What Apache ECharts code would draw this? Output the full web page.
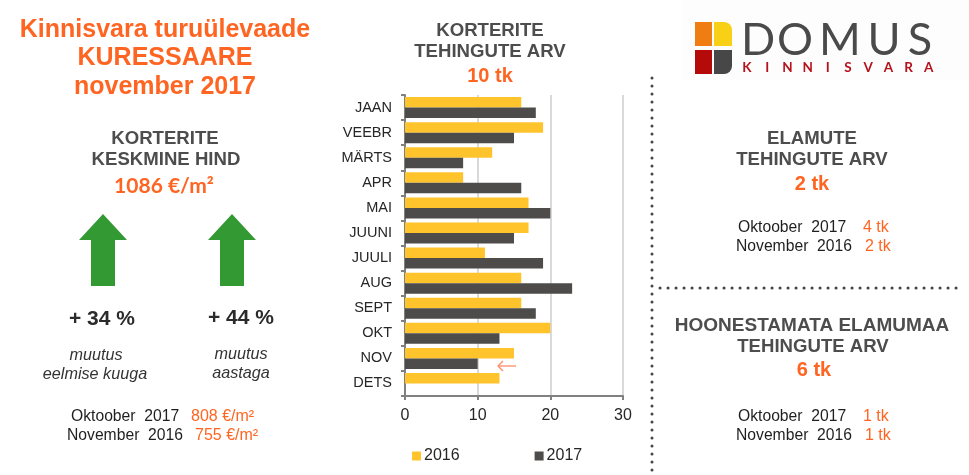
<!DOCTYPE html>
<html>
<head>
<meta charset="utf-8">
<style>
html,body{margin:0;padding:0;background:#fff}
#main{width:969px;height:475px}
</style>
<script src="https://cdn.jsdelivr.net/npm/echarts@6/dist/echarts.min.js"></script>
</head>
<body>
<div id="main"></div>
<script>
// andmed
var months = ['JAAN','VEEBR','MÄRTS','APR','MAI','JUUNI','JUULI','AUG','SEPT','OKT','NOV','DETS'];
var y2016 = [16,19,12,8,17,17,11,16,16,20,15,13];
var y2017 = [18,15,8,16,20,15,19,23,18,13,10,null];
var xTicks = {min:0, max:30, interval:10};

var ORANGE = '#ff6522', GREY = '#4d4d4d', DARK = '#1f1f1f';
var ARIAL = '"Liberation Sans", Arial, sans-serif';

function txt(x, y, s, size, color, opt) {
    opt = opt || {};
    return {
        type: 'text', x: x, y: y, silent: true,
        style: {
            text: s, fill: color,
            font: (opt.italic ? 'italic ' : '') + (opt.bold ? 'bold ' : '') + size + 'px ' + (opt.family || ARIAL),
            align: opt.align || 'center', verticalAlign: 'middle'
        }
    };
}
function arrow(cx) {
    return {
        type: 'polygon', silent: true,
        shape: {points: [[cx,214],[cx+24,240],[cx+12,240],[cx+12,286],[cx-12,286],[cx-12,240],[cx-24,240]]},
        style: {fill: '#339933'}
    };
}
function dotted(x1, y1, x2, y2) {
    return {
        type: 'line', silent: true,
        shape: {x1:x1, y1:y1, x2:x2, y2:y2},
        style: {stroke:'#454545', lineWidth:3, lineCap:'round', lineDash:[0.1,7.9]}
    };
}
function row(y, x1, a, x2, b) {
    return [
        txt(x1, y, a, 15.7, DARK, {align:'left'}),
        txt(x2, y, b, 16, ORANGE, {align:'left'})
    ];
}

// logo tahed
var logoTop = ['D','O','M','U','S'].map(function (c, i) {
    return txt([758,795,840,884,920][i], 40, c, 45, '#4a4a4a', {family:'Lato, sans-serif'});
});
var logoBottom = 'KINNISVARA'.split('').map(function (c, i) {
    return txt(747 + i * 20.2, 68, c, 13.5, '#b5121b', {bold:true, family:'Lato, sans-serif'});
});

var graphics = [
    {type:'rect', silent:true, shape:{x:682,y:0,width:287,height:80}, style:{fill:'#fdfdfd'}},
    // vasak pool
    txt(165, 30, 'Kinnisvara turuülevaade', 25, ORANGE, {bold:true}),
    txt(165, 58, 'KURESSAARE', 25, ORANGE, {bold:true}),
    txt(165, 87, 'november 2017', 25, ORANGE, {bold:true}),
    txt(165, 139, 'KORTERITE', 18.6, GREY, {bold:true}),
    txt(166, 160, 'KESKMINE HIND', 18.6, GREY, {bold:true}),
    txt(164, 186, '1086 €/m²', 21, ORANGE, {bold:true, family:'Lato, sans-serif'}),
    arrow(103),
    arrow(232),
    txt(102, 319, '+ 34 %', 21, '#2b2b2b', {bold:true}),
    txt(241, 318, '+ 44 %', 21, '#2b2b2b', {bold:true}),
    txt(96, 355, 'muutus', 16.2, '#333', {italic:true}),
    txt(95, 374, 'eelmise kuuga', 16.2, '#333', {italic:true}),
    txt(241, 354, 'muutus', 16.2, '#333', {italic:true}),
    txt(241, 373, 'aastaga', 16.2, '#333', {italic:true})
].concat(
    row(417, 71, 'Oktoober  2017', 191, '808 €/m²'),
    row(436, 67, 'November  2016', 195, '755 €/m²'),
    [
        // keskmine pealkiri
        txt(490, 31, 'KORTERITE', 18.6, GREY, {bold:true}),
        txt(490, 52, 'TEHINGUTE ARV', 18.6, GREY, {bold:true}),
        txt(490, 76, '10 tk', 20, ORANGE, {bold:true}),
        // nool NOV juures
        {type:'polyline', silent:true, shape:{points:[[516,366],[498,366]]}, style:{stroke:'#ff8a65', lineWidth:1.3, fill:null}},
        {type:'polyline', silent:true, shape:{points:[[503,361],[498,366],[503,371]]}, style:{stroke:'#ff8a65', lineWidth:1.3, fill:null}},
        // eraldajad
        dotted(652, 78, 652, 475),
        dotted(660, 288, 958, 288),
        // parem pool
        txt(812, 139, 'ELAMUTE', 18.6, GREY, {bold:true}),
        txt(812, 160, 'TEHINGUTE ARV', 18.6, GREY, {bold:true}),
        txt(812, 184, '2 tk', 20, ORANGE, {bold:true}),
        txt(812, 326, 'HOONESTAMATA ELAMUMAA', 19, GREY, {bold:true}),
        txt(813, 347, 'TEHINGUTE ARV', 18.6, GREY, {bold:true}),
        txt(814, 370, '6 tk', 20, ORANGE, {bold:true})
    ],
    row(228, 738, 'Oktoober  2017', 863, '4 tk'),
    row(247, 736, 'November  2016', 865, '2 tk'),
    row(417, 738, 'Oktoober  2017', 863, '1 tk'),
    row(436, 736, 'November  2016', 865, '1 tk'),
    [
        // logo
        {type:'rect', silent:true, shape:{x:695,y:22,width:17,height:24}, style:{fill:'#ef7d12'}},
        {type:'rect', silent:true, shape:{x:714,y:22,width:18,height:24,r:[0,8,0,0]}, style:{fill:'#f8d016'}},
        {type:'rect', silent:true, shape:{x:695,y:50,width:17,height:24}, style:{fill:'#b50a0a'}},
        {type:'rect', silent:true, shape:{x:714,y:50,width:18,height:24,r:[0,0,8,0]}, style:{fill:'#474747'}}
    ],
    logoTop,
    logoBottom
);

var chart = echarts.init(document.getElementById('main'));
chart.setOption({
    animation: false,
    backgroundColor: '#fff',
    grid: {left:405, right:346, top:95, bottom:79},
    legend: {
        left: 407, top: 443,
        itemWidth: 9, itemHeight: 9, itemGap: 75,
        icon: 'rect',
        textStyle: {fontFamily:ARIAL, fontSize:16, color:'#262626', padding:[0,0,0,-2]},
        data: ['2016','2017']
    },
    xAxis: {
        type: 'value',
        min: xTicks.min, max: xTicks.max, interval: xTicks.interval,
        axisLine: {show:true, lineStyle:{color:'#808080', width:2}},
        axisTick: {show:true, length:4, lineStyle:{color:'#808080', width:2}},
        axisLabel: {fontFamily:ARIAL, fontSize:16, color:'#262626', margin:12},
        splitLine: {show:true, lineStyle:{color:'#d9d9d9', width:2}}
    },
    yAxis: {
        type: 'category',
        inverse: true,
        data: months,
        axisLine: {show:true, lineStyle:{color:'#808080', width:2}},
        axisTick: {show:true, length:4, lineStyle:{color:'#808080', width:2}},
        axisLabel: {fontFamily:ARIAL, fontSize:14.5, color:'#262626', margin:13}
    },
    series: [
        {name:'2016', type:'bar', data:y2016, barWidth:10.5, barGap:'0%', itemStyle:{color:'#ffc42c'}},
        {name:'2017', type:'bar', data:y2017, barWidth:10.5, barGap:'0%', itemStyle:{color:'#4d4c4a'}}
    ],
    graphic: {elements: graphics}
});
</script>
</body>
</html>
